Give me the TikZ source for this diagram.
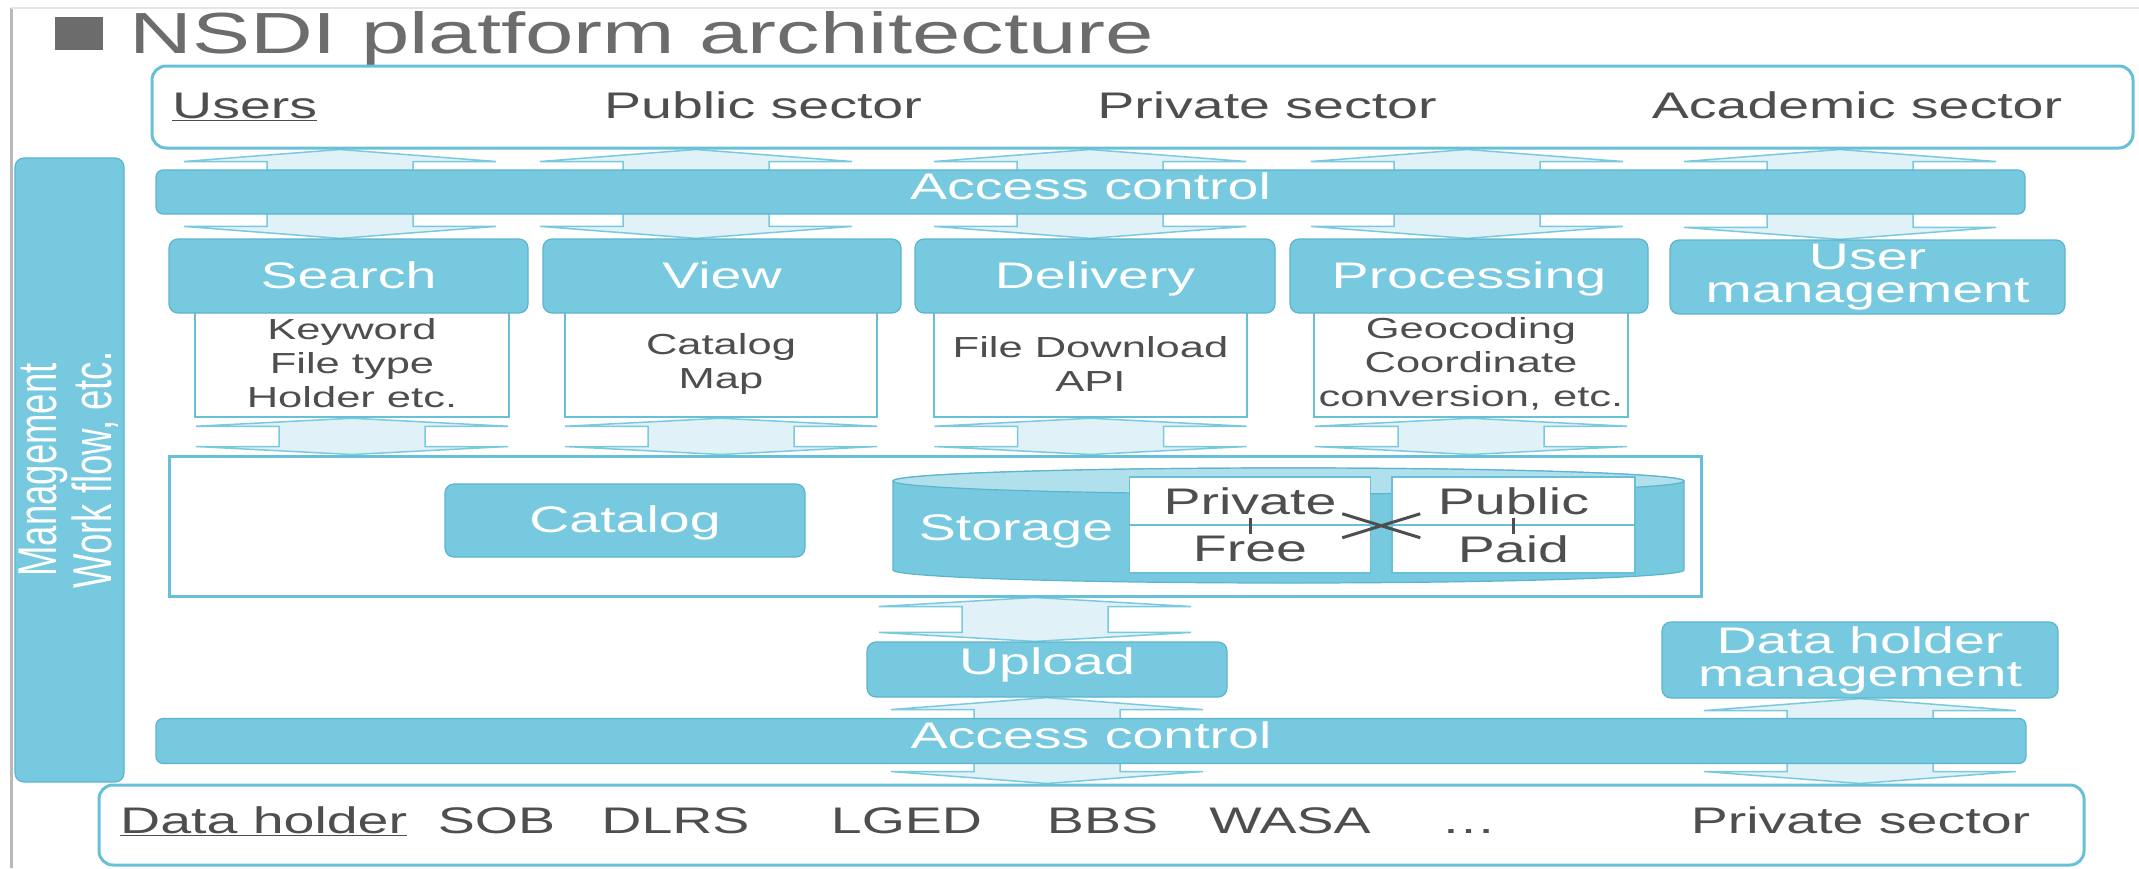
\documentclass[tikz,border=0pt]{standalone}
\usepackage{fontspec}
\setmainfont{Liberation Sans}[FakeStretch=1.5]
\newfontfamily\upfont{Liberation Sans}
\usetikzlibrary{calc}

\pgfdeclarelayer{bg}
\pgfsetlayers{bg,main}

\definecolor{boxblue}{RGB}{118,201,222}
\definecolor{boxline}{RGB}{92,180,206}
\definecolor{frameline}{RGB}{104,192,216}
\definecolor{arrfill}{RGB}{224,242,247}
\definecolor{arrline}{RGB}{122,202,222}
\definecolor{cyltop}{RGB}{176,224,236}
\definecolor{txtgray}{RGB}{78,78,78}
\definecolor{titlegray}{RGB}{108,108,108}

% double block arrow between two nodes: [head] {x from} {upper node} {lower node}
\newcommand{\updown}[4][12]{%
  \path (#2 |- #3.south) coordinate (ua) (#2 |- #4.north) coordinate (ub);
  \draw[dblarrow] (ua) -- ++(156,#1) -- ++(-83,0) -- ($(ub)+(73,-#1)$) -- ++(83,0)
    -- (ub) -- ++(-156,-#1) -- ++(83,0) -- ($(ua)+(-73,#1)$) -- ++(-83,0) -- cycle;}

\begin{document}
\begin{tikzpicture}[x=1pt, y=-1pt,
    bluebox/.style={draw=boxline, fill=boxblue, line width=1.2pt, rounded corners=9pt,
                    text=white, inner sep=0pt, align=center, font=\fontsize{37}{33}\selectfont},
    header/.style={bluebox, minimum height=74pt, text height=27pt, text depth=3pt},
    accbar/.style={bluebox, rounded corners=7pt, minimum height=44pt, text height=27pt, text depth=12pt},
    listbox/.style={draw=frameline, fill=white, line width=2.5pt, inner sep=0pt, minimum height=107pt,
                    align=center, text=txtgray, font=\fontsize{29}{34}\selectfont},
    outerframe/.style={draw=frameline, line width=3pt, rounded corners=14pt, inner sep=0pt},
    lbl/.style={text=txtgray, inner sep=0pt, font=\fontsize{37}{33}\selectfont},
    cell/.style={draw=frameline, fill=white, line width=1.5pt, inner sep=0pt, minimum width=241pt,
                 minimum height=48pt, text=txtgray, font=\fontsize{37}{33}\selectfont},
    dblarrow/.style={fill=arrfill, draw=arrline, line width=1.5pt},
    joinline/.style={draw=txtgray, line width=3pt},
    pageedge/.style={draw=gray!55, line width=3pt}]

    \useasboundingbox (0,0) rectangle (2139,868);
    \draw[pageedge] (11,868) -- (11,8);
    \draw[pageedge, gray!20, line width=2pt] (11,8) -- (2139,8);

    % title
    \node[fill=titlegray, minimum width=48pt, minimum height=33pt, inner sep=0pt] (bullet) at (79,33.5) {};
    \node[anchor=base west, text=titlegray, inner sep=0pt, font=\fontsize{58}{60}\selectfont] (title) at (129,53) {NSDI platform architecture};

    % users
    \node[outerframe, minimum width=1981pt, minimum height=82pt] (users) at (1142.5,107) {};
    \node[lbl, anchor=base west] (userslbl) at (172,118) {\underline{Users}};
    \node[lbl, anchor=base] (pubsec) at (763,118) {Public sector};
    \node[lbl, anchor=base] (privsec) at (1267,118) {Private sector};
    \node[lbl, anchor=base] (acadsec) at (1857,118) {Academic sector};

    \node[accbar, minimum width=1869pt] (acc1) at (1090.5,192) {Access control};

    % services
    \node[listbox, minimum width=314pt] (srchlist) at (352,363.5) {Keyword\\File type\\Holder etc.};
    \node[listbox, minimum width=312pt] (viewlist) at (721,363.5) {Catalog\\Map};
    \node[listbox, minimum width=313pt] (delivlist) at (1090.5,363.5) {File Download\\API};
    \node[listbox, minimum width=314pt] (proclist) at (1471,363.5) {Geocoding\\Coordinate\\conversion, etc.};

    \node[header, minimum width=359pt] (search) at (348.5,276) {Search};
    \node[header, minimum width=358pt] (view) at (722,276) {View};
    \node[header, minimum width=360pt] (deliv) at (1095,276) {Delivery};
    \node[header, minimum width=358pt] (proc) at (1469,276) {Processing};
    \node[bluebox, minimum width=395pt, minimum height=74pt] (usrmgmt) at (1867.5,277) {User\\management};

    % catalog and storage
    \node[draw=frameline, line width=3pt, minimum width=1532pt, minimum height=140pt, inner sep=0pt] (central) at (935,526) {};
    \node[bluebox, text height=27pt, text depth=3pt, minimum width=360pt, minimum height=73pt] (catalog) at (625,520.5) {Catalog};

    \filldraw[fill=boxblue, draw=boxline, line width=1.2pt] (893,481) -- (893,570)
        arc[start angle=180, end angle=360, x radius=395.5pt, y radius=13pt] -- (1684,481)
        arc[start angle=0, end angle=180, x radius=395.5pt, y radius=13pt] -- cycle;
    \filldraw[fill=cyltop, draw=boxline, line width=1.2pt] (1288.5,481) ellipse [x radius=395.5pt, y radius=13pt];
    \node[lbl, text=white] (storage) at (1016,531) {Storage};

    \node[cell] (priv) at (1250,501) {Private};
    \node[cell] (free) at (1250,549) {Free};
    \node[cell, minimum width=243pt] (publ) at (1513.5,501) {Public};
    \node[cell, minimum width=243pt] (paid) at (1513.5,549) {Paid};
    \draw[joinline] ($(priv.south)+(0,-8)$) -- ($(priv.south)+(0,8)$);
    \draw[joinline] ($(publ.south)+(0,-8)$) -- ($(publ.south)+(0,8)$);
    \coordinate (cross) at ($(priv.south east)!0.5!(publ.south west)$);
    \draw[joinline] ($(cross)+(-39,-12)$) -- ($(cross)+(39,12)$)
                    ($(cross)+(-39,12)$) -- ($(cross)+(39,-12)$);

    % upload side
    \node[bluebox, minimum width=360pt, minimum height=55pt, text height=27pt, text depth=17pt] (upload) at (1047,669.5) {Upload};
    \node[bluebox, minimum width=396pt, minimum height=76pt] (dhm) at (1860,660) {Data holder\\management};
    \node[accbar, minimum width=1870pt, minimum height=45pt] (acc2) at (1091,741) {Access control};

    % data holders
    \node[outerframe, minimum width=1985pt, minimum height=80pt] (holders) at (1091.5,825) {};
    \node[lbl, anchor=base west] (holderlbl) at (120,833) {\underline{Data holder}};
    \node[lbl, anchor=base] (sob) at (496.5,833) {SOB};
    \node[lbl, anchor=base] (dlrs) at (675.5,833) {DLRS};
    \node[lbl, anchor=base] (lged) at (906.5,833) {LGED};
    \node[lbl, anchor=base] (bbs) at (1102.5,833) {BBS};
    \node[lbl, anchor=base] (wasa) at (1290,833) {WASA};
    \node[lbl, anchor=base] (dots) at (1468.5,833) {…};
    \node[lbl, anchor=base] (privdata) at (1860.5,833) {Private sector};

    % management
    \node[bluebox, minimum width=109pt, minimum height=624pt] (mgmt) at (69.5,470) {};
    \node[text=white, rotate=90, inner sep=0pt] (mgmtlbl) at (73,470)
        {\scalebox{1}[1.5]{\upfont\fontsize{36.5}{34}\selectfont\begin{tabular}{@{}c@{}}Management\\Work flow, etc.\end{tabular}}};

    \begin{pgfonlayer}{bg}
        \updown{340,0}{users}{search}
        \updown{696,0}{users}{view}
        \updown{1090,0}{users}{deliv}
        \updown{1467,0}{users}{proc}
        \updown{1840,0}{users}{usrmgmt}
        \updown[8]{srchlist}{srchlist}{central}
        \updown[8]{viewlist}{viewlist}{central}
        \updown[8]{delivlist}{delivlist}{central}
        \updown[8]{proclist}{proclist}{central}
        \updown[9]{1035,0}{central}{upload}
        \updown{upload}{upload}{holders}
        \updown{dhm}{dhm}{holders}
    \end{pgfonlayer}
\end{tikzpicture}
\end{document}
